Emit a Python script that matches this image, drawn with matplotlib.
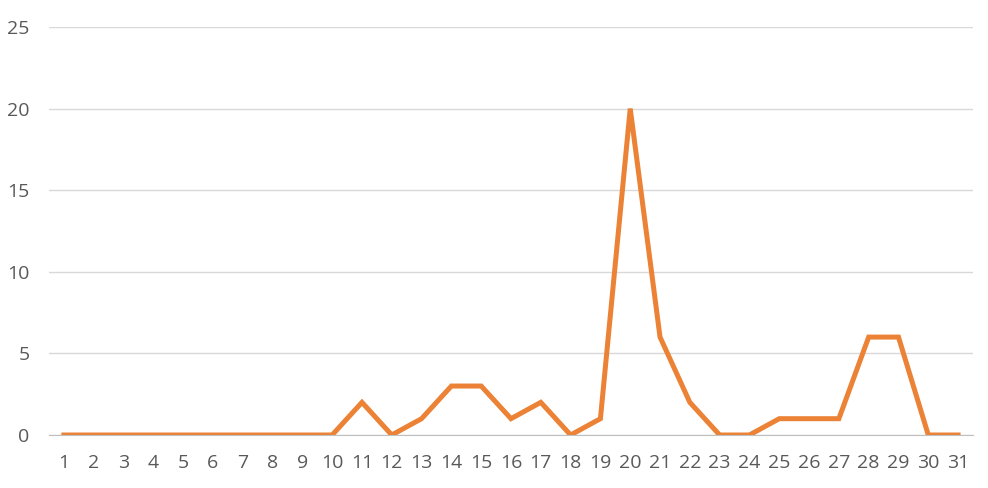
import numpy as np
import matplotlib.pyplot as plt

days = list(range(1, 32))
counts = [0, 0, 0, 0, 0, 0, 0, 0, 0, 0,
          2, 0, 1, 3, 3, 1, 2, 0, 1, 20,
          6, 2, 0, 0, 1, 1, 1, 6, 6, 0, 0]
yticks = [0, 5, 10, 15, 20, 25]

fig = plt.figure(figsize=(9.88, 4.88), dpi=100)
ax = fig.add_axes([49 / 988, 1 - 435 / 488, (973 - 49) / 988, (435 - 27) / 488])

ax.plot(days, counts, color="#EB8235", linewidth=3.6, solid_joinstyle="miter")

ax.set_xlim(0.5, 31.5)
ax.set_ylim(0, 25)
ax.set_xticks(days)
ax.set_yticks(yticks)
ax.grid(axis="y", color="#D9D9D9", linewidth=1)
ax.set_axisbelow(True)
for s in ["top", "right", "left"]:
    ax.spines[s].set_visible(False)
ax.spines["bottom"].set_color("#BFBFBF")
ax.tick_params(length=0, labelsize=14, labelcolor="#595959")
ax.tick_params(axis="y", pad=14)
ax.tick_params(axis="x", pad=14)
for lbl in ax.get_xticklabels() + ax.get_yticklabels():
    lbl.set_fontfamily("Open Sans")

fig.savefig("out.png", dpi=100)
